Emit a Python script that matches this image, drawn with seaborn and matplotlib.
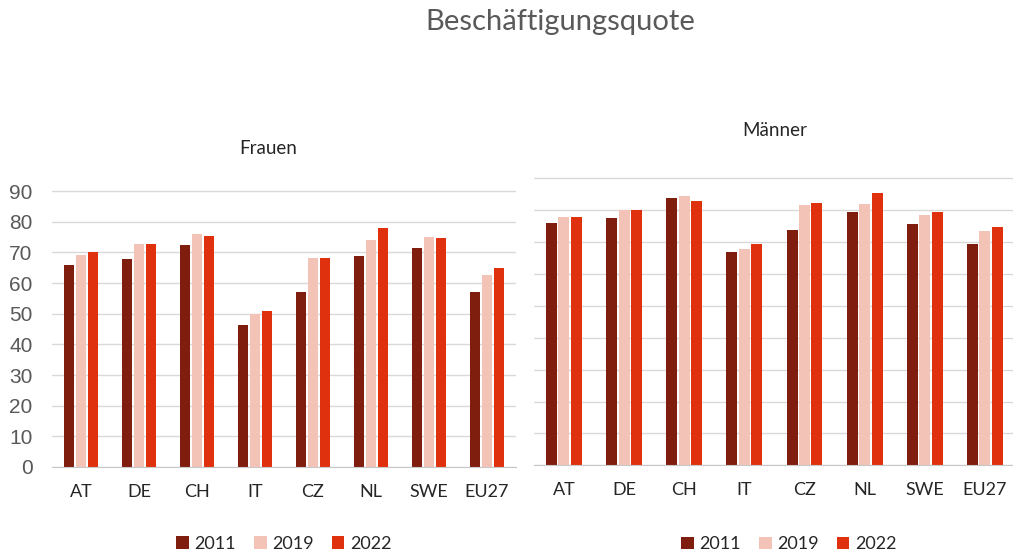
import pandas as pd
import numpy as np
import seaborn as sns
import matplotlib.pyplot as plt

laender = ['AT', 'DE', 'CH', 'IT', 'CZ', 'NL', 'SWE', 'EU27']
jahre = ['2011', '2019', '2022']

frauen_2011 = [65.9, 67.8, 72.5, 46.3, 57.2, 68.8, 71.5, 57.2]
frauen_2019 = [69.1, 72.8, 76.0, 49.8, 68.3, 74.1, 75.1, 62.7]
frauen_2022 = [70.2, 72.9, 75.2, 50.8, 68.3, 77.9, 74.6, 65.0]

maenner_2011 = [76.1, 77.5, 84.0, 67.0, 73.9, 79.4, 75.7, 69.3]
maenner_2019 = [77.9, 80.1, 84.4, 67.8, 81.7, 82.1, 78.4, 73.4]
maenner_2022 = [77.9, 80.2, 83.0, 69.3, 82.2, 85.3, 79.4, 74.8]

farben = ['#7f1d0e', '#f4c3b8', '#e0310f']


def to_long(a, b, c):
    rows = []
    for jahr, werte in zip(jahre, [a, b, c]):
        for land, w in zip(laender, werte):
            rows.append({'land': land, 'jahr': jahr, 'wert': w})
    return pd.DataFrame(rows)


df_f = to_long(frauen_2011, frauen_2019, frauen_2022)
df_m = to_long(maenner_2011, maenner_2019, maenner_2022)

sns.set_style('white')
plt.rcParams['font.family'] = ['Lato', 'DejaVu Sans']

fig = plt.figure(figsize=(10.13, 5.52), dpi=100)
ax1 = fig.add_axes([0.0513, 0.154, 0.458, 0.502])
ax2 = fig.add_axes([0.527, 0.157, 0.475, 0.522])

for ax, df, titel, yl in [(ax1, df_f, 'Frauen', True), (ax2, df_m, 'Männer', False)]:
    sns.barplot(data=df, x='land', y='wert', hue='jahr', palette=farben,
                saturation=1, width=0.62, gap=0.12, linewidth=0, ax=ax)
    ax.set_ylim(0, 90.4)
    ax.set_yticks(range(0, 100, 10))
    ax.yaxis.grid(True, color='#d9d9d9', linewidth=1)
    ax.set_axisbelow(True)
    sns.despine(ax=ax, left=True, top=True, right=True)
    ax.spines['bottom'].set_color('#c8c8c8')
    ax.set_xlabel('')
    ax.set_ylabel('')
    ax.tick_params(axis='x', length=0, pad=12, labelsize=13, labelcolor='#262626')
    if yl:
        ax.tick_params(axis='y', length=0, pad=14, labelsize=15, labelcolor='#595959')
        for t in ax.get_yticklabels():
            t.set_family('Liberation Sans')
        ax.set_title(titel, fontsize=13.5, color='#262626', pad=26, x=0.467)
        legend_x = 0.5
    else:
        ax.tick_params(axis='y', length=0, labelleft=False)
        ax.set_title(titel, fontsize=13.5, color='#262626', pad=30)
        legend_x = 0.53
    sns.move_legend(ax, 'upper center', bbox_to_anchor=(legend_x, -0.19), ncol=3,
                    frameon=False, title=None, fontsize=13, handlelength=0.7,
                    handleheight=0.7, handletextpad=0.3, columnspacing=1.0)
    for t in ax.get_legend().get_texts():
        t.set_color('#262626')

fig.text(0.553, 0.96, 'Beschäftigungsquote', ha='center', va='center',
         fontsize=21, color='#595959')

fig.savefig('out.png', dpi=100)
